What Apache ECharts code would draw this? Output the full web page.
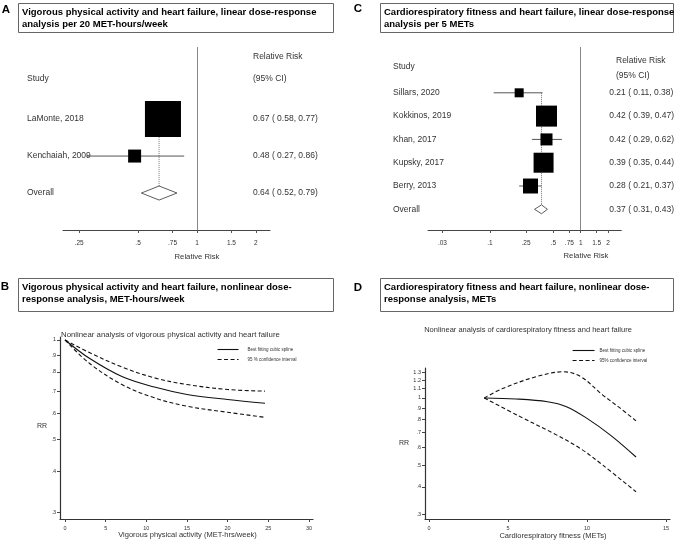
<!DOCTYPE html>
<html>
<head>
<meta charset="utf-8">
<script src="https://cdn.jsdelivr.net/npm/echarts@6/dist/echarts.min.js"></script>
<style>
  html, body { margin: 0; background: #fff; }
  #chart { width: 677px; height: 540px; }
</style>
</head>
<body>
<div id="chart"></div>
<script>
// -- panel A: vigorous activity, per 20 MET-hours/week --
const aStudies = ['LaMonte, 2018', 'Kenchaiah, 2009'];
const aRR = [0.67, 0.48];
const aLow = [0.58, 0.27];
const aHigh = [0.77, 0.86];
const aWeight = [88.5, 11.5];
const aOverall = [0.64, 0.52, 0.79];
const aTicks = [0.25, 0.5, 0.75, 1, 1.5, 2];

// -- panel C: cardiorespiratory fitness, per 5 METs --
const cStudies = ['Sillars, 2020', 'Kokkinos, 2019', 'Khan, 2017', 'Kupsky, 2017', 'Berry, 2013'];
const cRR = [0.21, 0.42, 0.42, 0.39, 0.28];
const cLow = [0.11, 0.39, 0.29, 0.35, 0.21];
const cHigh = [0.38, 0.47, 0.62, 0.44, 0.37];
const cWeight = [6.3, 34.2, 11.2, 31.0, 17.4];
const cOverall = [0.37, 0.31, 0.43];
const cTicks = [0.03, 0.1, 0.25, 0.5, 0.75, 1, 1.5, 2];

// -- panel B: nonlinear, MET-hours/week --
const bX = [0, 3, 7, 11, 15, 20, 24.6];
const bFit = [1, 0.88, 0.775, 0.72, 0.684, 0.66, 0.643];
const bUpper = [1, 0.916, 0.828, 0.768, 0.733, 0.708, 0.70];
const bLower = [1, 0.85, 0.733, 0.668, 0.63, 0.604, 0.583];
const bXTicks = [0, 5, 10, 15, 20, 25, 30];

// -- panel D: nonlinear, METs --
const dFitX = [3.5, 5.5, 7.5, 8.7, 10, 11.5, 13.1];
const dFit = [1, 0.99, 0.962, 0.914, 0.81, 0.68, 0.544];
const dUpperX = [3.5, 4.7, 6.8, 8.5, 9.6, 11, 12.1, 13.1];
const dUpper = [1, 1.105, 1.246, 1.31, 1.246, 1.03, 0.9, 0.79];
const dLowerX = [3.5, 5.76, 7.87, 9.56, 11, 13.1];
const dLower = [1, 0.825, 0.695, 0.595, 0.50, 0.38];
const dXTicks = [0, 5, 10, 15];

const rrTicksB = [0.3, 0.4, 0.5, 0.6, 0.7, 0.8, 0.9, 1];
const rrTicksD = [0.3, 0.4, 0.5, 0.6, 0.7, 0.8, 0.9, 1, 1.1, 1.2, 1.3];

const FONT = '"Liberation Sans", Arial, sans-serif';
const ln = Math.log;
const DIAMOND_H = 0.19;

let grids = [], xAxes = [], yAxes = [], series = [], graphics = [];

function shortNum(v) {
  return String(Math.round(v * 100) / 100).replace(/^0\./, '.');
}

function ciText(rr, lo, hi) {
  return rr.toFixed(2) + ' ( ' + lo.toFixed(2) + ', ' + hi.toFixed(2) + ')';
}

function text(str, x, y, size, opts) {
  opts = opts || {};
  graphics.push({
    type: 'text', x: x, y: y, silent: true,
    style: {
      text: str, fill: opts.color || '#333',
      font: (opts.bold ? 'bold ' : '') + size + 'px ' + FONT,
      align: opts.align || 'left', verticalAlign: 'middle'
    }
  });
}

function titleBox(letter, lx, ly, box, lines) {
  text(letter, lx, ly, 11.5, {bold: true, color: '#000', align: 'center'});
  graphics.push({
    type: 'rect', silent: true,
    shape: {x: box[0] + 0.5, y: box[1] + 0.5, width: box[2], height: box[3]},
    style: {fill: '#fff', stroke: '#666', lineWidth: 1}
  });
  lines.forEach((l, i) => text(l, box[0] + 4, box[1] + 9.5 + i * 11.5, 9.5, {bold: true, color: '#000'}));
}

function forestPanel(p) {
  let gi = grids.length;
  let yi = yAxes.length;
  let n = p.studies.length;
  let rows = [];
  for (let r = n; r >= 0; r--) rows.push(r);
  let rowName = r => r === 0 ? 'Overall' : p.studies[n - r];
  let rowText = r => r === 0
    ? ciText(p.overall[0], p.overall[1], p.overall[2])
    : ciText(p.rr[n - r], p.low[n - r], p.high[n - r]);

  grids.push({left: p.left, right: p.right, top: p.top, bottom: p.bottom});
  xAxes.push({
    gridIndex: gi, type: 'value', min: p.xMin, max: p.xMax,
    axisLine: {onZero: false, lineStyle: {color: '#444', width: 1}},
    axisTick: {customValues: p.ticks.map(ln), length: 3, lineStyle: {color: '#555'}},
    axisLabel: {
      customValues: p.ticks.map(ln), formatter: v => shortNum(Math.exp(v)),
      fontSize: 6.5, color: '#333', margin: 10, fontFamily: FONT
    },
    splitLine: {show: false}
  });
  let yBase = {
    gridIndex: gi, type: 'value', min: p.yMin, max: p.yMax,
    axisLine: {show: false, onZero: false}, axisTick: {show: false}, splitLine: {show: false}
  };
  yAxes.push(Object.assign({}, yBase, {
    axisLabel: {
      customValues: rows, formatter: v => rowName(v), align: 'left', margin: p.nameMargin,
      fontSize: 8.5, color: '#333', fontFamily: FONT, padding: [p.textShift, 0, 0, 0]
    }
  }));
  yAxes.push(Object.assign({}, yBase, {
    position: 'right', offset: p.textOffset,
    axisLabel: {
      customValues: rows, formatter: v => rowText(v), align: 'left', margin: 0,
      fontSize: 8.5, color: '#333', fontFamily: FONT, padding: [p.textShift, 0, 0, 0]
    }
  }));

  // confidence interval whiskers
  series.push({
    type: 'custom', xAxisIndex: gi, yAxisIndex: yi, z: 2,
    encode: {x: [0, 1], y: 2},
    data: p.studies.map((s, i) => [ln(p.low[i]), ln(p.high[i]), n - i]),
    renderItem: function (params, api) {
      let a = api.coord([api.value(0), api.value(2)]);
      let b = api.coord([api.value(1), api.value(2)]);
      return {type: 'line', shape: {x1: a[0], y1: a[1], x2: b[0], y2: b[1]},
        style: {stroke: '#555', lineWidth: 1}};
    }
  });
  // dotted line at pooled estimate
  series.push({
    type: 'custom', xAxisIndex: gi, yAxisIndex: yi, z: 1,
    encode: {x: 0, y: [1, 2]},
    data: [[ln(p.overall[0]), n, DIAMOND_H]],
    renderItem: function (params, api) {
      let a = api.coord([api.value(0), api.value(1)]);
      let b = api.coord([api.value(0), api.value(2)]);
      return {type: 'line', shape: {x1: a[0], y1: a[1], x2: b[0], y2: b[1]},
        style: {stroke: '#777', lineWidth: 1, lineDash: [1, 1]}};
    }
  });
  // study boxes, sized by weight
  series.push({
    type: 'scatter', xAxisIndex: gi, yAxisIndex: yi, z: 3,
    symbol: 'rect',
    symbolSize: v => p.boxScale * Math.sqrt(v[2]),
    itemStyle: {color: '#000', opacity: 1},
    data: p.studies.map((s, i) => [ln(p.rr[i]), n - i, p.weight[i]]),
    markLine: {
      silent: true, symbol: 'none', label: {show: false},
      lineStyle: {color: '#888', type: 'solid', width: 1},
      data: [{xAxis: ln(1)}]
    }
  });
  // pooled diamond
  series.push({
    type: 'custom', xAxisIndex: gi, yAxisIndex: yi, z: 3,
    encode: {x: [0, 1, 2], y: 3},
    data: [[ln(p.overall[1]), ln(p.overall[0]), ln(p.overall[2]), DIAMOND_H]],
    renderItem: function (params, api) {
      let h = api.value(3);
      let pts = [
        api.coord([api.value(0), 0]),
        api.coord([api.value(1), h]),
        api.coord([api.value(2), 0]),
        api.coord([api.value(1), -h])
      ];
      return {type: 'polygon', shape: {points: pts},
        style: {fill: '#fff', stroke: '#333', lineWidth: 0.8}};
    }
  });
}

function curvePanel(p) {
  let gi = grids.length;
  let yi = yAxes.length;
  grids.push({left: p.left, right: p.right, top: p.top, bottom: p.bottom});
  xAxes.push({
    gridIndex: gi, type: 'value', min: p.xMin, max: p.xMax,
    axisLine: {onZero: false, lineStyle: {color: '#333', width: 1.2}},
    axisTick: {customValues: p.xTicks, length: 3, lineStyle: {color: '#444'}},
    axisLabel: {customValues: p.xTicks, fontSize: 5.5, color: '#333', margin: 6, fontFamily: FONT},
    splitLine: {show: false}
  });
  yAxes.push({
    gridIndex: gi, type: 'value', min: ln(p.yMin), max: ln(p.yMax),
    axisLine: {show: true, onZero: false, lineStyle: {color: '#333', width: 1.2}},
    axisTick: {show: true, customValues: p.yTicks.map(ln), length: 3, lineStyle: {color: '#444'}},
    axisLabel: {
      customValues: p.yTicks.map(ln), formatter: v => shortNum(Math.exp(v)),
      fontSize: 5.5, color: '#333', margin: 4, fontFamily: FONT
    },
    splitLine: {show: false}
  });
  p.curves.forEach(c => series.push({
    type: 'line', name: c.name, xAxisIndex: gi, yAxisIndex: yi,
    data: c.x.map((x, i) => [x, ln(c.y[i])]),
    smooth: 0.35, symbol: 'none',
    itemStyle: {color: '#111'},
    lineStyle: {color: '#111', width: 1.1, type: c.dashed ? [4, 2.5] : 'solid'}
  }));
}

// -- A --
titleBox('A', 6, 10, [18, 3, 315, 29],
  ['Vigorous physical activity and heart failure, linear dose-response',
   'analysis per 20 MET-hours/week']);
forestPanel({
  studies: aStudies, rr: aRR, low: aLow, high: aHigh, weight: aWeight, overall: aOverall, ticks: aTicks,
  left: 63, right: 407, top: 47, bottom: 310,
  xMin: -1.5765, xMax: 0.8588, yMin: -1, yMax: 3.95,
  nameMargin: 36, textOffset: -17, boxScale: 3.83, textShift: 7
});
text('Relative Risk', 253, 57, 8.5);
text('(95% CI)', 253, 79, 8.5);
text('Study', 27, 79, 8.5);
text('Relative Risk', 197, 257, 7.7, {align: 'center'});

// -- C --
titleBox('C', 358, 9, [380, 3, 293, 29],
  ['Cardiorespiratory fitness and heart failure, linear dose-response',
   'analysis per 5 METs']);
forestPanel({
  studies: cStudies, rr: cRR, low: cLow, high: cHigh, weight: cWeight, overall: cOverall, ticks: cTicks,
  left: 428, right: 49, top: 47, bottom: 310,
  xMin: -3.873, xMax: 1.029, yMin: -0.888, yMax: 6.966,
  nameMargin: 35, textOffset: -12, boxScale: 3.59, textShift: 4
});
text('Relative Risk', 616, 61, 8.5);
text('(95% CI)', 616, 76, 8.5);
text('Study', 393, 67, 8.5);
text('Relative Risk', 586, 256, 7.7, {align: 'center'});

// -- B --
titleBox('B', 5, 287, [18, 278, 315, 33],
  ['Vigorous physical activity and heart failure, nonlinear dose-',
   'response analysis, MET-hours/week']);
curvePanel({
  left: 60, right: 364, top: 337, bottom: 21,
  xMin: -0.615, xMax: 30.5, yMin: 0.287, yMax: 1.021,
  xTicks: bXTicks, yTicks: rrTicksB,
  curves: [
    {name: 'Best fitting cubic spline', x: bX, y: bFit},
    {name: '95 % confidence interval', x: bX, y: bUpper, dashed: true},
    {name: '95 % confidence interval', x: bX, y: bLower, dashed: true}
  ]
});
text('Nonlinear analysis of vigorous physical activity and heart failure', 61, 335, 7.8);
text('RR', 42, 426, 7, {align: 'center'});
text('Vigorous physical activity (MET-hrs/week)', 187.5, 535, 7.5, {align: 'center'});

// -- D --
titleBox('D', 358, 288, [380, 278, 293, 33],
  ['Cardiorespiratory fitness and heart failure, nonlinear dose-',
   'response analysis, METs']);
curvePanel({
  left: 425, right: 7, top: 368, bottom: 21,
  xMin: -0.25, xMax: 15.25, yMin: 0.287, yMax: 1.362,
  xTicks: dXTicks, yTicks: rrTicksD,
  curves: [
    {name: 'Best fitting cubic spline', x: dFitX, y: dFit},
    {name: '95% confidence interval', x: dUpperX, y: dUpper, dashed: true},
    {name: '95% confidence interval', x: dLowerX, y: dLower, dashed: true}
  ]
});
text('Nonlinear analysis of cardiorespiratory fitness and heart failure', 528, 330, 7.5, {align: 'center'});
text('RR', 404, 443, 7, {align: 'center'});
text('Cardiorespiratory fitness (METs)', 553, 536, 7.5, {align: 'center'});

// legend icons: line only, no marker
let legendBase = {
  orient: 'vertical', itemHeight: 6, itemGap: 5, selectedMode: false,
  itemStyle: {opacity: 0},
  lineStyle: {width: 1.1},
  textStyle: {fontSize: 4.5, color: '#333', fontFamily: FONT}
};

let option = {
  animation: false,
  backgroundColor: '#fff',
  textStyle: {fontFamily: FONT},
  grid: grids,
  xAxis: xAxes,
  yAxis: yAxes,
  series: series,
  legend: [
    Object.assign({}, legendBase, {
      data: ['Best fitting cubic spline', '95 % confidence interval'],
      left: 212, top: 342, itemWidth: 21,
      textStyle: Object.assign({}, legendBase.textStyle, {padding: [0, 0, 0, 4]})
    }),
    Object.assign({}, legendBase, {
      data: ['Best fitting cubic spline', '95% confidence interval'],
      left: 567, top: 343, itemWidth: 22
    })
  ],
  graphic: graphics
};

let myChart = echarts.init(document.getElementById('chart'));
myChart.setOption(option);
</script>
</body>
</html>
